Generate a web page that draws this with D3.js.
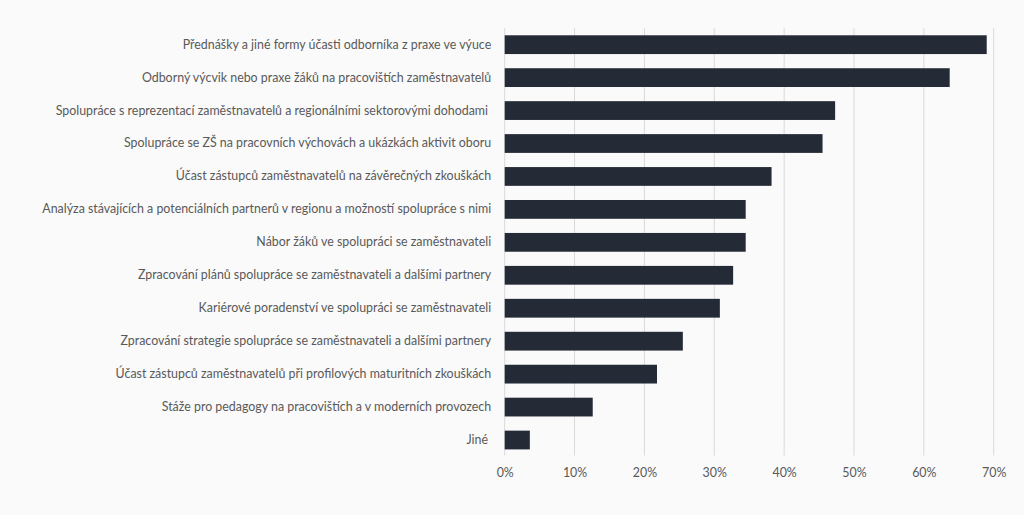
<!DOCTYPE html>
<html><head><meta charset="utf-8">
<script src="https://cdn.jsdelivr.net/npm/d3@7"></script>
<style>
html,body{margin:0;padding:0;background:#fafafa;}
svg{display:block;}
text{white-space:pre;}
</style></head>
<body><svg id="c" width="1024" height="515"></svg>
<script>
const categories = [
  "Přednášky a jiné formy účasti odborníka z praxe ve výuce",
  "Odborný výcvik nebo praxe žáků na pracovištích zaměstnavatelů",
  "Spolupráce s reprezentací zaměstnavatelů a regionálními sektorovými dohodami ",
  "Spolupráce se ZŠ na pracovních výchovách a ukázkách aktivit oboru",
  "Účast zástupců zaměstnavatelů na závěrečných zkouškách",
  "Analýza stávajících a potenciálních partnerů v regionu a možností spolupráce s nimi",
  "Nábor žáků ve spolupráci se zaměstnavateli",
  "Zpracování plánů spolupráce se zaměstnavateli a dalšími partnery",
  "Kariérové poradenství ve spolupráci se zaměstnavateli",
  "Zpracování strategie spolupráce se zaměstnavateli a dalšími partnery",
  "Účast zástupců zaměstnavatelů při profilových maturitních zkouškách",
  "Stáže pro pedagogy na pracovištích a v moderních provozech",
  "Jiné "
];
const values = [69.0, 63.7, 47.3, 45.5, 38.2, 34.5, 34.5, 32.7, 30.8, 25.5, 21.8, 12.6, 3.6];
const tickValues = [0, 10, 20, 30, 40, 50, 60, 70];

const svg = d3.select("#c");
const mLeft = 504.7, mRight = 993.7, mTop = 28.2, mBottom = 456.5;
const x = d3.scaleLinear().domain([0, 70]).range([mLeft, mRight]);
const y = d3.scaleBand().domain(categories).range([mTop, mBottom]).paddingInner(0.43).paddingOuter(0.215);

const font = "Lato, 'Open Sans', sans-serif";
const grey = "#595959";

// gridlines
svg.append("g").selectAll("line").data(tickValues).join("line")
  .attr("x1", d => x(d)).attr("x2", d => x(d))
  .attr("y1", mTop).attr("y2", 455.5)
  .attr("stroke", "#d9d9d9").attr("stroke-width", 1);

// x axis labels
const xa = svg.append("g").attr("transform", `translate(0,${mBottom})`)
  .call(d3.axisBottom(x).tickValues(tickValues).tickFormat(d => d + "%").tickSize(0).tickPadding(11.5));
xa.select(".domain").remove();
xa.selectAll("text").attr("fill", grey).style("font-family", font).style("font-size", "12.4px");

// bars
svg.append("g").selectAll("rect").data(values).join("rect")
  .attr("x", x(0))
  .attr("y", (d, i) => y(categories[i]))
  .attr("width", d => x(d) - x(0))
  .attr("height", y.bandwidth())
  .attr("fill", "#252b36");

// category labels
const ya = svg.append("g").attr("transform", `translate(${mLeft},0)`)
  .call(d3.axisLeft(y).tickSize(0).tickPadding(13.5));
ya.select(".domain").remove();
ya.selectAll("text").attr("fill", grey).style("font-family", font).style("font-size", "12.4px");
</script></body></html>
